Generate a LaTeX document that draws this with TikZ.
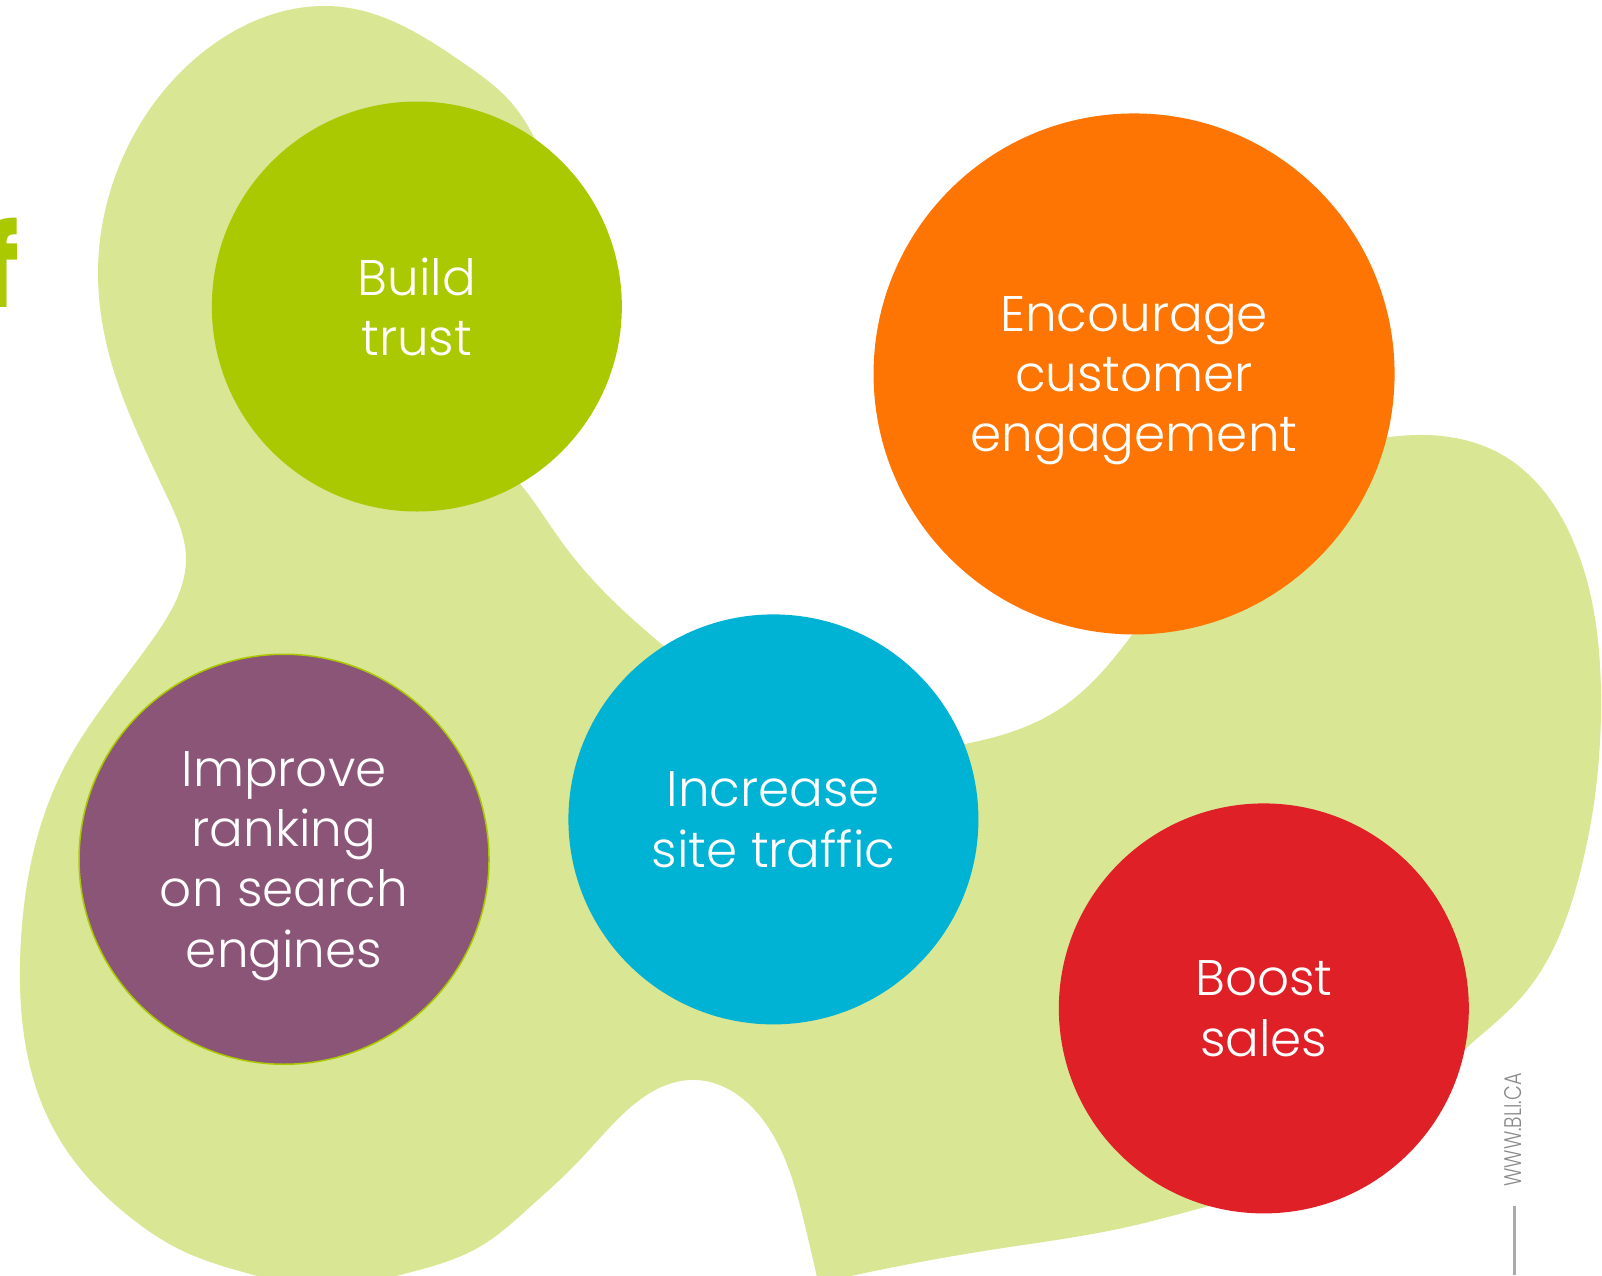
\documentclass[tikz,border=0pt]{standalone}
\usepackage{fontspec}
\usetikzlibrary{hobby}
\newfontfamily\plight{Poppins Light}
\newfontfamily\pbold{Poppins}
\definecolor{blob}{HTML}{D9E693}
\definecolor{lime}{HTML}{AAC900}
\definecolor{orng}{HTML}{FF7504}
\definecolor{cyanb}{HTML}{00B2D3}
\definecolor{plum}{HTML}{8B5577}
\definecolor{redb}{HTML}{E02027}
\definecolor{graytxt}{HTML}{8A8A8A}
\definecolor{grayline}{HTML}{AAAAAA}
\tikzset{
  bubble/.style={circle, inner sep=0pt, minimum size=410pt, text=white, align=center,
    text depth=0pt, font=\plight\fontsize{50}{60.3}\selectfont},
}
\begin{document}
\begin{tikzpicture}[x=1.02168pt, y=-1.02168pt]
\useasboundingbox (0,0) rectangle (1568,1248);
\fill[white] (0,0) rectangle (1568,1248);

% background blob: one smooth outline, with a single corner at the bottom edge
\begin{scope}
\clip (0,0) rectangle (1568,1248);
\fill[blob, use Hobby shortcut]
 (801,1256) .. (788,1200) .. (759,1115) .. (679,1057) .. (600,1100)
 .. (562,1141) .. (518,1182) .. (470,1220) .. (395,1247) .. (318,1260)
 .. (245,1247) .. (176,1223) .. (132,1195) .. (53,1106) .. (20,930)
 .. (64,749) .. (150,625) .. (182,545) .. (164,487) .. (105,340)
 .. (96,262) .. (122,150) .. (200,50) .. (336,7) .. (454,62) .. (500,100)
 .. (521,131) .. (535,260) .. (474,424) .. (511,476) .. (548,528)
 .. (590,578) .. (648,631) .. (800,725) .. (945,728) .. (1040,692)
 .. (1109,620) .. (1230,480) .. (1358,428) .. (1470,445) .. (1540,530)
 .. (1567,680) .. (1545,860) .. (1490,975) .. (1436,1025) .. (1320,1130)
 .. (1181,1181) .. (1103,1201) .. (972,1223) .. (801,1256);
\end{scope}

% heading fragment at the left edge
\node[anchor=base east, inner sep=0pt, text=lime, font=\pbold\bfseries\fontsize{114}{114}\selectfont]
  (head) at (19,301) {f};

% goal bubbles
\node[bubble, fill=lime] (trust) at (408,300) {Build\\trust};
\node[bubble, fill=orng, minimum size=521pt] (engage) at (1110,366) {Encourage\\customer\\engagement};
\node[bubble, fill=cyanb] (traffic) at (757,802) {Increase\\site traffic};
\node[bubble, fill=plum, draw=lime, line width=1.5pt] (rank) at (278,841) {Improve\\ranking\\on search\\engines};
\node[bubble, fill=redb] (sales) at (1237,987) {Boost\\sales};

% site address and rule
\node[rotate=90, inner sep=0pt, text=graytxt, font=\plight\fontsize{24}{24}\selectfont]
  (site) at (1481,1106) {\scalebox{0.8}[1]{WWW.BLI.CA}};
\coordinate (ruletop) at (1482,1180);
\coordinate (rulebot) at (1482,1248);
\draw[grayline, line width=3pt] (ruletop) -- (rulebot);
\end{tikzpicture}
\end{document}
